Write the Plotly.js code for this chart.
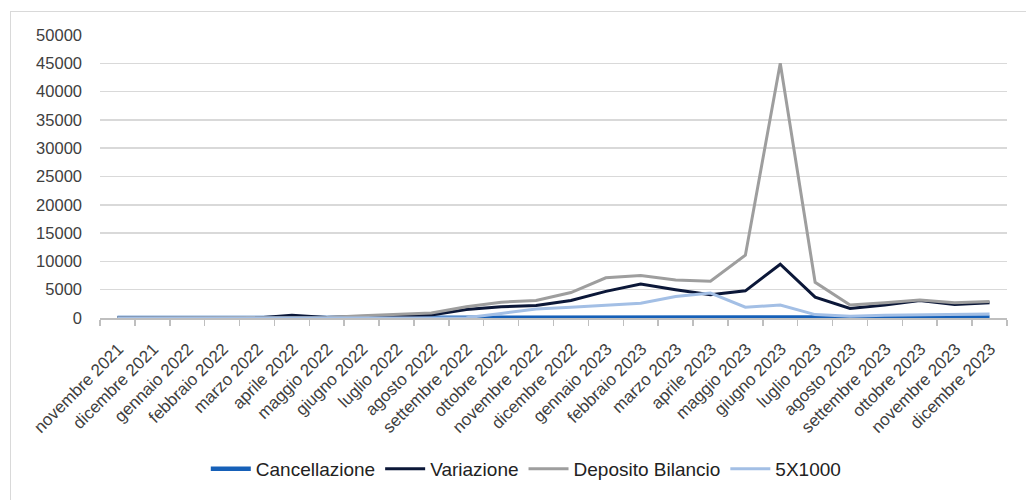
<!DOCTYPE html>
<html>
<head>
<meta charset="utf-8">
<script src="https://cdn.plot.ly/plotly-3.0.1.min.js"></script>
<style>
  html, body { margin: 0; padding: 0; background: #ffffff; }
  #frame { position: absolute; left: 10px; top: 11px; width: 1040px; height: 520px; border: 1.5px solid #d9d9d9; box-sizing: border-box; }
  #chart { position: absolute; left: 0; top: 0; width: 1026px; height: 500px; }
</style>
</head>
<body>
<div id="frame"></div>
<div id="chart"></div>
<script>
const categories = ["novembre 2021","dicembre 2021","gennaio 2022","febbraio 2022","marzo 2022","aprile 2022","maggio 2022","giugno 2022","luglio 2022","agosto 2022","settembre 2022","ottobre 2022","novembre 2022","dicembre 2022","gennaio 2023","febbraio 2023","marzo 2023","aprile 2023","maggio 2023","giugno 2023","luglio 2023","agosto 2023","settembre 2023","ottobre 2023","novembre 2023","dicembre 2023"];
const cancellazione = [0,0,0,0,0,0,0,0,0,0,60,80,90,90,90,90,90,90,90,90,90,90,90,90,90,90];
const variazione = [0,0,0,0,0,500,80,200,350,550,1500,2000,2200,3100,4700,6000,5000,4100,4800,9500,3700,1700,2300,3100,2400,2700];
const depositoBilancio = [0,0,0,0,0,0,100,400,600,900,2000,2800,3100,4500,7100,7500,6700,6500,11100,45000,6300,2300,2700,3200,2700,2900];
const cinqueXMille = [0,0,0,0,0,0,0,0,0,0,50,800,1600,1900,2300,2600,3800,4400,1900,2300,600,300,500,600,600,700];
const yTicks = [0,5000,10000,15000,20000,25000,30000,35000,40000,45000,50000];

const traces = [
  {name: "Cancellazione", x: categories, y: cancellazione, type: "scatter", mode: "lines", line: {color: "#1660b8", width: 4.5}},
  {name: "Variazione", x: categories, y: variazione, type: "scatter", mode: "lines", line: {color: "#0b1738", width: 3}},
  {name: "Deposito Bilancio", x: categories, y: depositoBilancio, type: "scatter", mode: "lines", line: {color: "#9e9e9e", width: 3}},
  {name: "5X1000", x: categories, y: cinqueXMille, type: "scatter", mode: "lines", line: {color: "#a3bfe5", width: 3}}
];

const layout = {
  width: 1026, height: 500,
  margin: {l: 100, r: 19, t: 35, b: 180},
  paper_bgcolor: "rgba(0,0,0,0)",
  plot_bgcolor: "rgba(0,0,0,0)",
  font: {family: "Liberation Sans, Arial, sans-serif", color: "#404040"},
  showlegend: true,
  legend: {orientation: "h", x: 0.47, xanchor: "center", y: -0.533, yanchor: "middle",
           font: {size: 19, color: "#222222"}, itemwidth: 40, tracegroupgap: 0},
  xaxis: {
    type: "category",
    range: [-0.5, categories.length - 0.5],
    tickangle: -45,
    tickson: "boundaries",
    ticks: "outside", ticklen: 6, tickcolor: "#bfbfbf", tickwidth: 1.5,
    showline: true, linecolor: "#bfbfbf", linewidth: 1.5,
    showgrid: false, zeroline: false,
    tickfont: {size: 17, color: "#404040"},
    ticklabelshift: 1, ticklabelstandoff: 13,
    fixedrange: true
  },
  yaxis: {
    range: [0, 50000],
    tickvals: yTicks,
    ticktext: yTicks.map(String),
    showgrid: true, gridcolor: "#d9d9d9", gridwidth: 1.5,
    zeroline: false, showline: false,
    ticks: "", ticklabelstandoff: 17,
    tickfont: {size: 16.5, color: "#404040"},
    fixedrange: true
  }
};

Plotly.newPlot("chart", traces, layout, {displayModeBar: false, staticPlot: true});
</script>
</body>
</html>
